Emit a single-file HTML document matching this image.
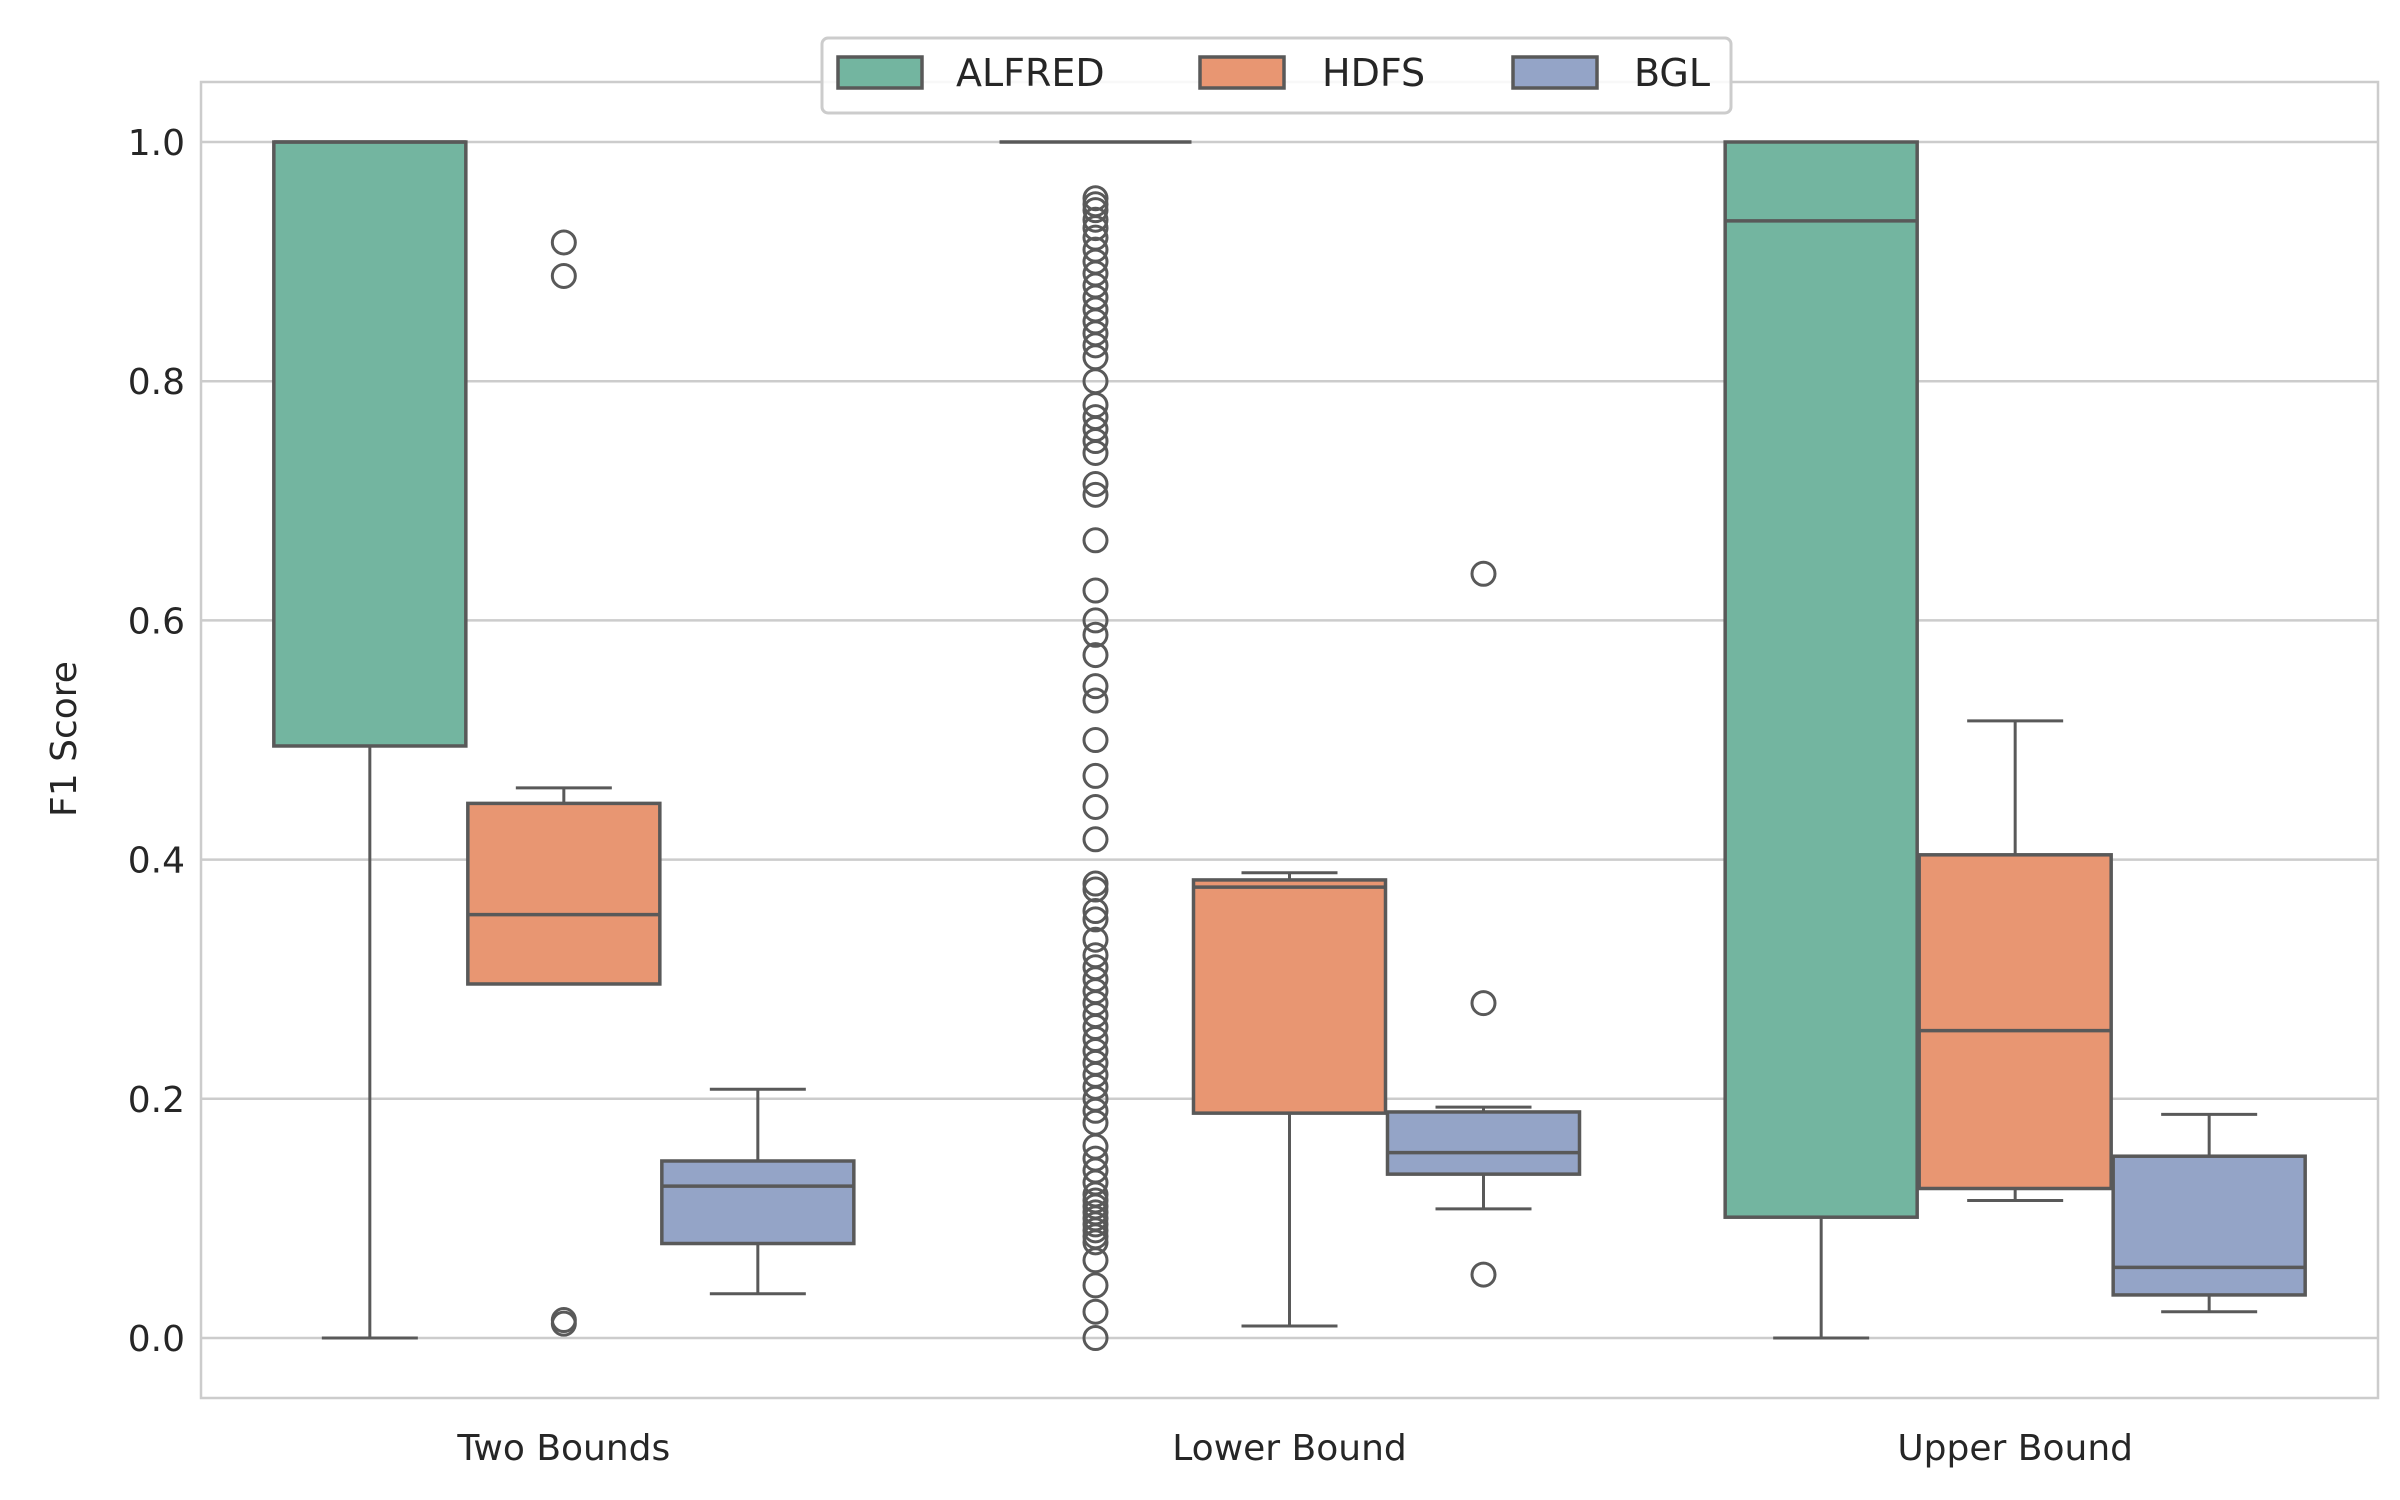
<!DOCTYPE html>
<html><head><meta charset="utf-8">
<style>
html,body{margin:0;padding:0;background:#fff;}
svg{display:block;font-family:"DejaVu Sans","Liberation Sans",sans-serif;}
</style></head>
<body>
<svg id="chart" width="2400" height="1500" viewBox="0 0 2400 1500" xmlns="http://www.w3.org/2000/svg"></svg>
<script>
const categories = ["Two Bounds","Lower Bound","Upper Bound"];
const seriesNames = ["ALFRED","HDFS","BGL"];
const seriesColors = ["#73b5a0","#e89672","#94a4c7"];
const yTicks = [0.0,0.2,0.4,0.6,0.8,1.0];
const yTickLabels = ["0.0","0.2","0.4","0.6","0.8","1.0"];
// [whiskerLow, q1, median, q3, whiskerHigh] per category per series
const alfredStats = [[0,0.495,1.0,1.0,1.0],[1.0,1.0,1.0,1.0,1.0],[0,0.101,0.934,1.0,1.0]];
const hdfsStats = [[0.296,0.296,0.354,0.447,0.46],[0.01,0.188,0.377,0.383,0.389],[0.115,0.125,0.257,0.404,0.516]];
const bglStats = [[0.037,0.079,0.127,0.148,0.208],[0.108,0.137,0.155,0.189,0.193],[0.022,0.036,0.059,0.152,0.187]];
const alfredOutliers = [[],[0.953,0.948,0.943,0.935,0.928,0.92,0.91,0.9,0.89,0.88,0.87,0.86,0.85,0.84,0.83,0.82,0.8,0.78,0.77,0.76,0.75,0.74,0.714,0.705,0.667,0.625,0.6,0.588,0.571,0.545,0.533,0.5,0.47,0.444,0.417,0.38,0.375,0.357,0.35,0.333,0.32,0.31,0.3,0.29,0.28,0.27,0.26,0.25,0.24,0.23,0.22,0.21,0.2,0.19,0.18,0.16,0.15,0.14,0.13,0.12,0.115,0.11,0.105,0.1,0.095,0.09,0.085,0.08,0.065,0.044,0.022,0.0],[]];
const hdfsOutliers = [[0.916,0.888,0.015,0.012],[],[]];
const bglOutliers = [[],[0.639,0.280,0.053],[]];

const svg = document.getElementById('chart');
const NS = "http://www.w3.org/2000/svg";
const L=201, R=2378, T=82, B=1398;
const y0px=1338, y1px=142;
function yScale(v){ return y0px + (y1px-y0px)*v; }
function xCenter(ci){ return L + (R-L)*(ci+0.5)/categories.length; }
const boxW=192, offset=194;
function mk(tag, attrs){ const e=document.createElementNS(NS,tag); for(const k in attrs) e.setAttribute(k,attrs[k]); svg.appendChild(e); return e; }
const LINE="#595959";

// frame
const fr = mk('rect',{x:L,y:T,width:R-L,height:B-T,fill:'none',stroke:'#cccccc','stroke-width':2.5});


// grid + y ticks
yTicks.forEach((t,i)=>{
  const g = mk('line',{x1:L,x2:R,y1:yScale(t),y2:yScale(t),stroke:'#cccccc','stroke-width':2.5});
  
  
  const tx = mk('text',{x:185,y:yScale(t)+13,'text-anchor':'end','font-size':36,fill:'#262626'});
  tx.textContent = yTickLabels[i];
  
  
});
// x labels
categories.forEach((c,ci)=>{
  const tx = mk('text',{x:xCenter(ci),y:1460,'text-anchor':'middle','font-size':36,fill:'#262626'});
  tx.textContent=c;
  
  
});
const yt = mk('text',{x:0,y:0,'text-anchor':'middle','font-size':36,fill:'#262626',transform:'translate(76,739) rotate(-90)'});
yt.textContent='F1 Score';



const allStats=[alfredStats,hdfsStats,bglStats];
const allOut=[alfredOutliers,hdfsOutliers,bglOutliers];
categories.forEach((c,ci)=>{
  seriesNames.forEach((s,si)=>{
    const st=allStats[si][ci];
    const cx=xCenter(ci)+(si-1)*offset;
    const x1=cx-boxW/2;
    // whiskers
    const wl=mk('line',{x1:cx,x2:cx,y1:yScale(st[0]),y2:yScale(st[1]),stroke:LINE,'stroke-width':3});
    
    
    const wh=mk('line',{x1:cx,x2:cx,y1:yScale(st[3]),y2:yScale(st[4]),stroke:LINE,'stroke-width':3});
    
    
    [st[0],st[4]].forEach(v=>{
      const cap=mk('line',{x1:cx-boxW/4,x2:cx+boxW/4,y1:yScale(v),y2:yScale(v),stroke:LINE,'stroke-width':3});
      
      
    });
    const bx=mk('rect',{x:x1,y:yScale(st[3]),width:boxW,height:Math.max(0,yScale(st[1])-yScale(st[3])),fill:seriesColors[si],stroke:LINE,'stroke-width':3.5});
    
    
    const md=mk('line',{x1:x1,x2:x1+boxW,y1:yScale(st[2]),y2:yScale(st[2]),stroke:LINE,'stroke-width':3.5});
    
    
    allOut[si][ci].forEach(v=>{
      const o=mk('circle',{cx:cx,cy:yScale(v),r:11.5,fill:'none',stroke:LINE,'stroke-width':3});
      
      
    });
  });
});

// legend
const lg=mk('rect',{x:822,y:38,width:909,height:75,rx:6,fill:'#ffffff','fill-opacity':0.85,stroke:'#cccccc','stroke-width':3});


const legPatchX=[838,1200,1513];
const legTextX=[956,1322,1634];
seriesNames.forEach((s,si)=>{
  const p=mk('rect',{x:legPatchX[si],y:57,width:84,height:31,fill:seriesColors[si],stroke:LINE,'stroke-width':3.5});
  
  
  const t=mk('text',{x:legTextX[si],y:86,'font-size':38,fill:'#262626'});
  t.textContent=s;
  
  
});
</script>
</body></html>
